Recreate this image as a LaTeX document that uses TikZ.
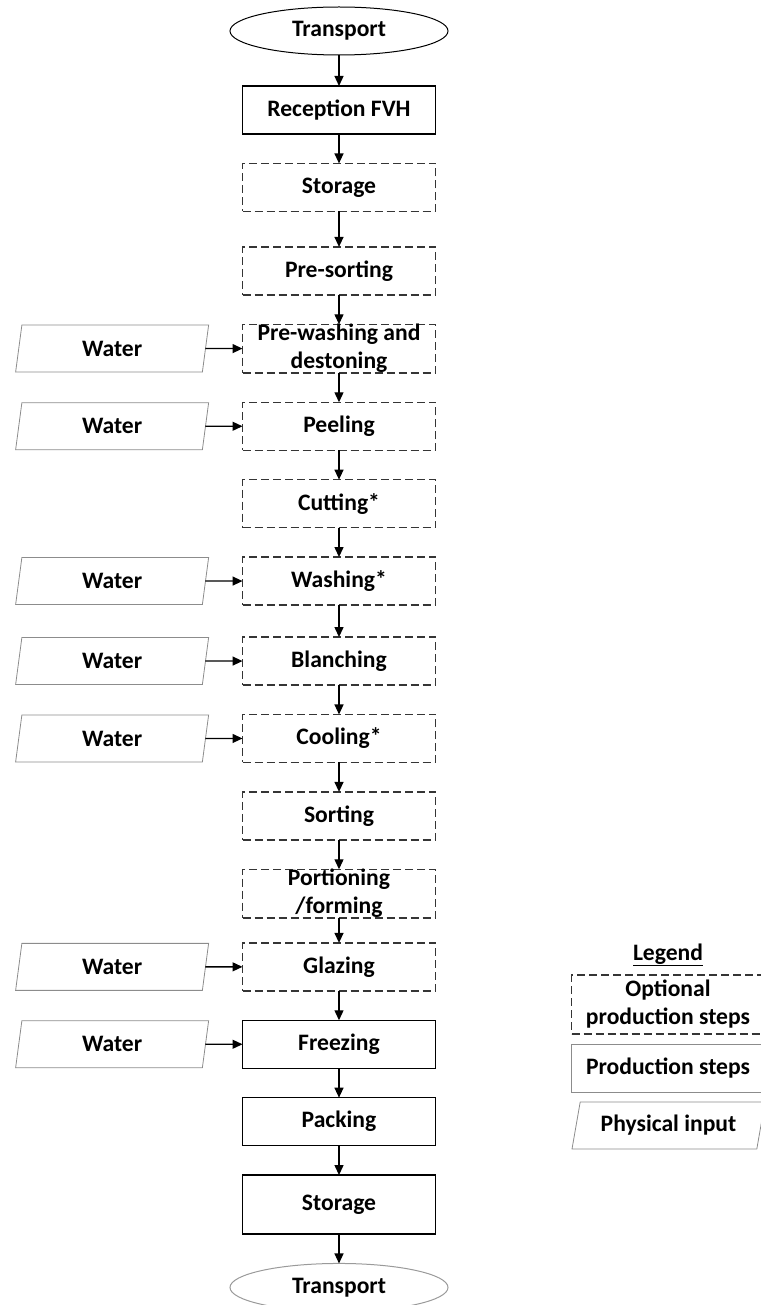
\documentclass[tikz,border=0pt]{standalone}
\usepackage{fontspec}
\setmainfont{Carlito}
\usepackage{tikz}
\usetikzlibrary{arrows.meta, positioning, shapes.geometric}

\definecolor{optline}{HTML}{353535}
\definecolor{inline}{HTML}{8C8C8C}
\definecolor{endline}{HTML}{9A9A9A}

\begin{document}
\begin{tikzpicture}[
      x=1pt, y=-1pt,
      node distance=29.4pt and 37pt,
      every node/.style={font=\fontsize{23.6}{28}\selectfont\bfseries, align=center, inner sep=0pt, outer sep=0pt},
      stepbox/.style={draw=black, line width=1.3pt, minimum width=193pt, minimum height=48pt},
      optbox/.style={stepbox, draw=optline, dash pattern=on 8pt off 4pt},
      water/.style={trapezium, trapezium left angle=68, trapezium right angle=112, trapezium stretches body,
        draw=inline, line width=0.8pt, minimum width=193pt, minimum height=47pt},
      terminal/.style={ellipse, draw=black, line width=1pt, minimum width=218pt, minimum height=48pt},
      arr/.style={-{Triangle[length=10pt, width=9pt]}, line width=1.3pt}
    ]
      \useasboundingbox (0,0) rectangle (760,1305);

% Main chain
      \node[terminal] (tin) at (339,31) {Transport};
      \node[stepbox, below=31pt of tin] (recep) {Reception FVH};
      \node[optbox, below=of recep] (store1) {Storage};
      \node[optbox, below=35.5pt of store1] (presort) {Pre-sorting};
      \node[optbox, below=of presort] (prewash) {Pre-washing and\\destoning};
      \node[optbox, below=of prewash] (peel) {Peeling};
      \node[optbox, below=of peel] (cut) {Cutting*};
      \node[optbox, below=of cut] (wash) {Washing*};
      \node[optbox, below=32pt of wash] (blanch) {Blanching};
      \node[optbox, below=of blanch] (cool) {Cooling*};
      \node[optbox, below=of cool] (sort) {Sorting};
      \node[optbox, below=of sort] (portion) {Portioning\\/forming};
      \node[optbox, below=25pt of portion] (glaze) {Glazing};
      \node[stepbox, below=of glaze] (freeze) {Freezing};
      \node[stepbox, below=of freeze] (pack) {Packing};
      \node[stepbox, below=of pack, minimum height=59pt] (store2) {Storage};
      \node[terminal, draw=endline, below=of store2] (tout) {Transport};

% Water inputs
      \node[water, left=of prewash] (wprewash) {Water};
      \node[water, left=of peel] (wpeel) {Water};
      \node[water, left=of wash] (wwash) {Water};
      \node[water, left=of blanch] (wblanch) {Water};
      \node[water, left=of cool] (wcool) {Water};
      \node[water, left=of glaze] (wglaze) {Water};
      \node[water, left=of freeze] (wfreeze) {Water};

% Arrows
      \draw[arr] (tin) -- (recep);
      \draw[arr] (recep) -- (store1);
      \draw[arr] (store1) -- (presort);
      \draw[arr] (presort) -- (prewash);
      \draw[arr] (prewash) -- (peel);
      \draw[arr] (peel) -- (cut);
      \draw[arr] (cut) -- (wash);
      \draw[arr] (wash) -- (blanch);
      \draw[arr] (blanch) -- (cool);
      \draw[arr] (cool) -- (sort);
      \draw[arr] (sort) -- (portion);
      \draw[arr] (portion) -- (glaze);
      \draw[arr] (glaze) -- (freeze);
      \draw[arr] (freeze) -- (pack);
      \draw[arr] (pack) -- (store2);
      \draw[arr] (store2) -- (tout);

      \draw[arr] (wprewash) -- (prewash);
      \draw[arr] (wpeel) -- (peel);
      \draw[arr] (wwash) -- (wash);
      \draw[arr] (wblanch) -- (blanch);
      \draw[arr] (wcool) -- (cool);
      \draw[arr] (wglaze) -- (glaze);
      \draw[arr] (wfreeze) -- (freeze);

% Legend
      \node (legtitle) at (668,955) {\underline{Legend}};
      \node[optbox, minimum height=59pt] (legopt) at (668,1004.5) {Optional\\production steps};
      \node[stepbox, draw=inline, line width=1pt] (legstep) at (668,1068) {Production steps};
      \node[water] (leginput) at (668.5,1125.5) {Physical input};
    \end{tikzpicture}
\end{document}
